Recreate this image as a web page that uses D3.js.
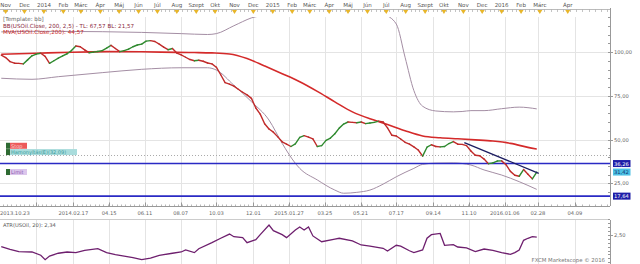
<!DOCTYPE html>
<html>
<head>
<meta charset="utf-8">
<script src="https://cdn.jsdelivr.net/npm/d3@7"></script>
<style>
body{margin:0;background:#fff;}
svg{display:block;font-family:"DejaVu Sans",Verdana,sans-serif;}
</style>
</head>
<body>
<div id="canvas"></div>
<script>
// weekly closes, week 0 = 2013-10-25
var weekStart = '2013-10-25';
var closes = [98.2,96.8,94.5,93.6,93.5,93.2,95.5,97.8,98.8,99.3,
  97.5,93.5,95,96.5,97.8,99,100.8,103.4,103,101.2,
  99.6,99.9,100.3,100.8,102.2,103.8,102,100.2,100.8,101.6,
  103,104,104.5,106.2,106.5,106,104.5,102.8,101.3,102,
  99.4,98.3,97,95.7,95,95.3,94.7,93.7,93.2,91.3,
  87,82.5,81.6,80.5,78.7,77,75.5,73.5,68,64.5,
  59,56,54.2,51.5,48.7,47.3,46,47.5,51.2,52.2,
  51.4,50.3,46,46.5,49.5,50.8,53.3,56.5,58.8,60,
  59.8,59.6,60,59.1,59.4,59.8,60.5,60,56.6,52.4,
  52,50.3,48.4,47.4,45.8,44,40.5,45.6,47,46,
  45.8,46,47.7,48.8,47.3,47.2,46.5,43.4,41,40.7,
  38.8,36.2,36.6,37.7,37.8,35.6,31.8,29.6,29,32.8,
  30.2,27.5,31.4];

// MVA(200)
var mvaWeeks  = [0,8,16,24,32,40,44,48,52,56,60,64,68,72,76,80,84,88,92,96,100,104,108,112,116,120,122];
var mvaValues = [98.7,99.3,99.9,100.2,100.1,99.8,99.7,99.5,98.9,96.3,92,87.6,83,77.5,71.5,65.8,61.8,58.6,55,52,51,50.4,49.8,49.1,47.8,45.5,44.5];

// Bollinger bands (200, 2.5)
var bbWeeks = [0,7,13,23,32,41,47,49,53,57,61,64,67,68,72,76,78,81,84,87,90,92,94,96,99,103,105,107,110,114,118,122];
var bbUpper = [111.5,111.8,111.8,111.6,111.2,110.5,110,110.5,115,119.5,122,127,129,130,130,129,128,127,126,122,116,97,78,69,66.3,65.8,66,66.5,66.5,67.6,68.5,67.5];
var bbLower = [85,84.4,85.9,88.2,90.1,91,91,89.7,81,71.6,61.1,47.8,36.4,33.5,26.9,21.1,19.3,19.8,21.1,24.5,28.7,31.2,33.5,35.8,36.5,36.6,36.3,35.4,32.6,29.7,25.9,21.5];

// ATR(20)
var atrWeeks  = [0,2,4,7,9,10,11,13,15,17,19,22,24,26,28,30,32,34,36,39,41,42,44,45,48,50,52,53,55,56,58,59,61,62,64,65,67,68,69,70,71,73,76,77,80,82,84,87,88,90,91,93,94,96,97,98,100,101,103,104,106,108,110,112,114,116,117,118,119,120,121,122];
var atrValues = [1.75,1.58,1.43,1.41,1.2,0.92,1.15,1.33,1.41,1.37,1.52,1.62,1.37,1.24,1.15,1.05,0.92,1.01,1.2,1.33,1.41,1.54,1.37,1.62,2.01,2.29,2.56,2.39,2.33,2.01,2.2,2.52,3.14,2.78,2.52,2.33,2.82,3.01,2.82,3.01,2.44,2.07,2.24,2.29,2.12,1.86,1.79,1.65,1.47,1.84,1.79,1.49,1.37,1.54,2.29,2.52,2.6,1.84,1.88,1.73,1.67,1.43,1.6,1.52,1.37,1.26,1.37,1.54,2.16,2.29,2.39,2.36];

var trendWeeks = [105.5, 122.4];
var trendValues = [48.2, 30.7];
var blueLevels = [36.26, 17.64];
var orderLevel = 41.1;
var priceTicks = [25, 50, 75, 100];
var priceLabels = ['25,00', '50,00', '75,00', '100,00'];

var monthLabels = ['Nov','Dec','2014','Feb','Márc','Ápr','Máj','Jún','Júl','Aug','Szept','Okt',
  'Nov','Dec','2015','Feb','Márc','Ápr','Máj','Jún','Júl','Aug','Szept','Okt',
  'Nov','Dec','2016','Feb','Márc','Ápr'];
var dateTicks = ['2013-12-20','2014-02-17','2014-04-15','2014-06-11','2014-08-07','2014-10-03','2014-12-01',
  '2015-01-27','2015-03-25','2015-05-21','2015-07-17','2015-09-14','2015-11-10','2016-01-06','2016-02-28','2016-04-09'];
var dateLabels = ['','2014.02.17','04.15','06.11','08.07','10.03','12.01',
  '2015.01.27','03.25','05.21','07.17','09.14','11.10','2016.01.06','02.28','04.09'];

var W = 640, H = 264, axisX = 610;
var parse = d3.timeParse('%Y-%m-%d');
var t0 = parse(weekStart);
function weekDate(i){ return new Date(t0.getTime() + i * 7 * 864e5); }

var x = d3.scaleTime()
  .domain([parse('2013-10-23'), parse('2016-02-28'), parse('2016-04-09')])
  .range([0, 538, 575]);
var y = d3.scaleLinear().domain([100, 25]).range([52, 183.25]);
var yAtr = d3.scaleLinear().domain([0.8, 3.5]).range([261.5, 219.4]);

var svg = d3.select('#canvas').append('svg').attr('width', W).attr('height', H);
var defs = svg.append('defs');
defs.append('clipPath').attr('id','mainclip').append('rect').attr('x',0).attr('y',17).attr('width',axisX).attr('height',187);
defs.append('clipPath').attr('id','atrclip').append('rect').attr('x',0).attr('y',220).attr('width',axisX).attr('height',44);

// ---- top month strip
var months = d3.timeMonth.range(new Date(2013,10,1), new Date(2016,4,1)).slice(0, monthLabels.length);
var topG = svg.append('g');
topG.append('line').attr('x1',0).attr('x2',axisX).attr('y1',9.5).attr('y2',9.5).attr('stroke','#bbb');
topG.selectAll('.wk').data(d3.timeWeek.range(parse('2013-10-23'), parse('2016-05-20')))
  .enter().append('line')
  .attr('x1', function(d){ return Math.round(x(d)) + 0.5; })
  .attr('x2', function(d){ return Math.round(x(d)) + 0.5; })
  .attr('y1', 9.5).attr('y2', 12).attr('stroke', '#aaa').attr('stroke-width', 0.7);
topG.selectAll('.tri').data(months).enter().append('path')
  .attr('d', function(d){ var p = x(d); return 'M'+(p-2.5)+',10L'+(p+2.5)+',10L'+p+',14Z'; })
  .attr('fill', '#e8b62a');
topG.selectAll('.ml').data(months).enter().append('text')
  .attr('x', function(d){ return x(d); }).attr('y', 7)
  .attr('text-anchor', 'middle').attr('font-size', 5.5).attr('fill', '#555')
  .text(function(d, i){ return monthLabels[i]; });

// ---- grid
var grid = svg.append('g');
grid.selectAll('.vg').data(dateTicks).enter().append('line')
  .attr('x1', function(d){ return Math.round(x(parse(d))) + 0.5; })
  .attr('x2', function(d){ return Math.round(x(parse(d))) + 0.5; })
  .attr('y1', 17).attr('y2', 204).attr('stroke', '#e4e4e4');
grid.selectAll('.vg2').data(dateTicks).enter().append('line')
  .attr('x1', function(d){ return Math.round(x(parse(d))) + 0.5; })
  .attr('x2', function(d){ return Math.round(x(parse(d))) + 0.5; })
  .attr('y1', 220).attr('y2', 264).attr('stroke', '#e4e4e4');
grid.selectAll('.hg').data(priceTicks).enter().append('line')
  .attr('x1', 0).attr('x2', axisX)
  .attr('y1', function(d){ return Math.round(y(d)) + 0.5; })
  .attr('y2', function(d){ return Math.round(y(d)) + 0.5; })
  .attr('stroke', '#e4e4e4');

// ---- main plot
var plot = svg.append('g').attr('clip-path', 'url(#mainclip)');

plot.append('line').attr('x1',0).attr('x2',axisX)
  .attr('y1', Math.round(y(orderLevel)) + 0.5).attr('y2', Math.round(y(orderLevel)) + 0.5)
  .attr('stroke', '#aaa').attr('stroke-dasharray', '1,2');

var bandLine = function(vals){
  return d3.line().curve(d3.curveMonotoneX)
    .x(function(d, i){ return x(weekDate(bbWeeks[i])); })
    .y(function(d){ return y(d); })(vals);
};
plot.append('path').attr('d', bandLine(bbUpper)).attr('fill','none').attr('stroke','#a48ea4').attr('stroke-width',1);
plot.append('path').attr('d', bandLine(bbLower)).attr('fill','none').attr('stroke','#a48ea4').attr('stroke-width',1);

plot.selectAll('.lvl').data(blueLevels).enter().append('line')
  .attr('x1', 0).attr('x2', axisX)
  .attr('y1', function(d){ return y(d); }).attr('y2', function(d){ return y(d); })
  .attr('stroke', '#2a2ac4').attr('stroke-width', 1.6);

var mvaLine = d3.line().curve(d3.curveMonotoneX)
  .x(function(d, i){ return x(weekDate(mvaWeeks[i])); })
  .y(function(d){ return y(d); });
plot.append('path').attr('d', mvaLine(mvaValues)).attr('fill','none').attr('stroke','#d42a2a').attr('stroke-width',1.6);

// price: up weeks green, down weeks red
plot.selectAll('.seg').data(closes.slice(1)).enter().append('line')
  .attr('x1', function(d, i){ return x(weekDate(i)); })
  .attr('y1', function(d, i){ return y(closes[i]); })
  .attr('x2', function(d, i){ return x(weekDate(i + 1)); })
  .attr('y2', function(d){ return y(d); })
  .attr('stroke', function(d, i){ return d >= closes[i] ? '#2f8a2f' : '#c02a2a'; })
  .attr('stroke-width', 1.4).attr('stroke-linecap', 'round');

plot.append('line')
  .attr('x1', x(weekDate(trendWeeks[0]))).attr('y1', y(trendValues[0]))
  .attr('x2', x(weekDate(trendWeeks[1]))).attr('y2', y(trendValues[1]))
  .attr('stroke', '#1c1c60').attr('stroke-width', 1.3);

// ---- order labels on the left
var tags = [
  {t:'Stop', v:orderLevel + 3.6, bg:'#ec5a5a', fg:'#fbd0d0', w:17},
  {t:'Hamonyítás(E)(32,09)', v:orderLevel, bg:'#a9dcdc', fg:'#3c9c9c', w:67},
  {t:'Limit', v:orderLevel - 11.4, bg:'#dcc6ec', fg:'#8e5cb0', w:17}
];
var tg = svg.append('g');
tags.forEach(function(d){
  var cy = y(d.v) - 3;
  tg.append('rect').attr('x', 6).attr('y', cy - 3).attr('width', 4).attr('height', 6).attr('fill', '#2e6a32');
  tg.append('rect').attr('x', 10).attr('y', cy - 3).attr('width', d.w).attr('height', 6).attr('fill', d.bg);
  tg.append('text').attr('x', 11).attr('y', cy + 2).attr('font-size', 5).attr('fill', d.fg).text(d.t);
});

// ---- legend
var lg = svg.append('g').attr('font-size', 5.6);
lg.append('text').attr('x', 3).attr('y', 21).attr('fill', '#666').text('[Template: bb]');
lg.append('text').attr('x', 3).attr('y', 27.5).attr('fill', '#8a1f3c').text('BB(USOil.Close, 200, 2,5) -  TL: 67,57  BL: 21,57');
lg.append('text').attr('x', 3).attr('y', 34).attr('fill', '#cc2424').text('MVA(USOil.Close,200): 44,57');

// ---- right price axis
var ra = svg.append('g');
ra.append('line').attr('x1', axisX + 0.5).attr('x2', axisX + 0.5).attr('y1', 8).attr('y2', 206).attr('stroke', '#999');
ra.selectAll('.mt').data(d3.range(20, 121, 5).filter(function(v){ return y(v) > 17 && y(v) < 204; }))
  .enter().append('line')
  .attr('x1', axisX - 2).attr('x2', axisX)
  .attr('y1', function(d){ return Math.round(y(d)) + 0.5; })
  .attr('y2', function(d){ return Math.round(y(d)) + 0.5; })
  .attr('stroke', '#999');
ra.selectAll('.Mt').data(priceTicks).enter().append('line')
  .attr('x1', axisX).attr('x2', axisX + 3)
  .attr('y1', function(d){ return Math.round(y(d)) + 0.5; })
  .attr('y2', function(d){ return Math.round(y(d)) + 0.5; })
  .attr('stroke', '#999');
ra.selectAll('.pl').data(priceTicks).enter().append('text')
  .attr('x', axisX + 4).attr('y', function(d){ return y(d) + 2; })
  .attr('font-size', 5.2).attr('fill', '#666')
  .text(function(d, i){ return priceLabels[i]; });

var boxes = [
  {v: blueLevels[0], t: '36,26', bg: '#1e1ea8', fg: '#fff'},
  {v: closes[closes.length - 1], t: '31,42', bg: '#4cc0e4', fg: '#12306e'},
  {v: blueLevels[1], t: '17,64', bg: '#1e1ea8', fg: '#fff'}
];
boxes.forEach(function(d){
  ra.append('rect').attr('x', axisX + 3).attr('y', y(d.v) - 3.5).attr('width', 17.5).attr('height', 7).attr('fill', d.bg);
  ra.append('text').attr('x', axisX + 4).attr('y', y(d.v) + 2).attr('font-size', 5.2).attr('fill', d.fg).text(d.t);
});

// ---- bottom date axis
var ba = svg.append('g');
ba.append('line').attr('x1', 0).attr('x2', axisX).attr('y1', 206.5).attr('y2', 206.5).attr('stroke', '#999');
ba.selectAll('.bw').data(d3.timeWeek.range(parse('2013-10-23'), parse('2016-05-20')))
  .enter().append('line')
  .attr('x1', function(d){ return Math.round(x(d)) + 0.5; })
  .attr('x2', function(d){ return Math.round(x(d)) + 0.5; })
  .attr('y1', 204.5).attr('y2', 206.5).attr('stroke', '#999').attr('stroke-width', 0.7);
ba.selectAll('.bt').data(dateTicks).enter().append('line')
  .attr('x1', function(d){ return Math.round(x(parse(d))) + 0.5; })
  .attr('x2', function(d){ return Math.round(x(parse(d))) + 0.5; })
  .attr('y1', 202.5).attr('y2', 206.5).attr('stroke', '#999');
ba.selectAll('.bl').data(dateTicks).enter().append('text')
  .attr('x', function(d){ return x(parse(d)); }).attr('y', 215)
  .attr('text-anchor', 'middle').attr('font-size', 5.2).attr('fill', '#666')
  .text(function(d, i){ return dateLabels[i]; });
ba.append('text').attr('x', 0).attr('y', 215).attr('font-size', 5.2).attr('fill', '#666').text('2013.10.23');

// ---- ATR panel
var ap = svg.append('g');
ap.append('line').attr('x1', 0).attr('x2', axisX).attr('y1', 219.5).attr('y2', 219.5).attr('stroke', '#ccc');
ap.append('line').attr('x1', axisX + 0.5).attr('x2', axisX + 0.5).attr('y1', 220).attr('y2', 264).attr('stroke', '#999');
ap.selectAll('.at').data(d3.range(0.75, 3.6, 0.25)).enter().append('line')
  .attr('x1', axisX - 2).attr('x2', axisX)
  .attr('y1', function(d){ return Math.round(yAtr(d)) + 0.5; })
  .attr('y2', function(d){ return Math.round(yAtr(d)) + 0.5; })
  .attr('stroke', '#999');
ap.append('line').attr('x1', axisX).attr('x2', axisX + 3)
  .attr('y1', Math.round(yAtr(2.5)) + 0.5).attr('y2', Math.round(yAtr(2.5)) + 0.5).attr('stroke', '#999');
ap.append('text').attr('x', axisX + 4).attr('y', yAtr(2.5) + 2).attr('font-size', 5.2).attr('fill', '#666').text('2,50');

var atrLine = d3.line()
  .x(function(d, i){ return x(weekDate(atrWeeks[i])); })
  .y(function(d){ return yAtr(d); });
ap.append('g').attr('clip-path', 'url(#atrclip)').append('path')
  .attr('d', atrLine(atrValues)).attr('fill', 'none').attr('stroke', '#6e1f6e').attr('stroke-width', 1.3);
ap.append('text').attr('x', 3).attr('y', 226.5).attr('font-size', 5.2).attr('fill', '#555').text('ATR(USOil, 20): 2,34');
ap.append('text').attr('x', 605).attr('y', 262).attr('text-anchor', 'end').attr('font-size', 5.4).attr('fill', '#777').text('FXCM Marketscope © 2016');
</script>
</body>
</html>
